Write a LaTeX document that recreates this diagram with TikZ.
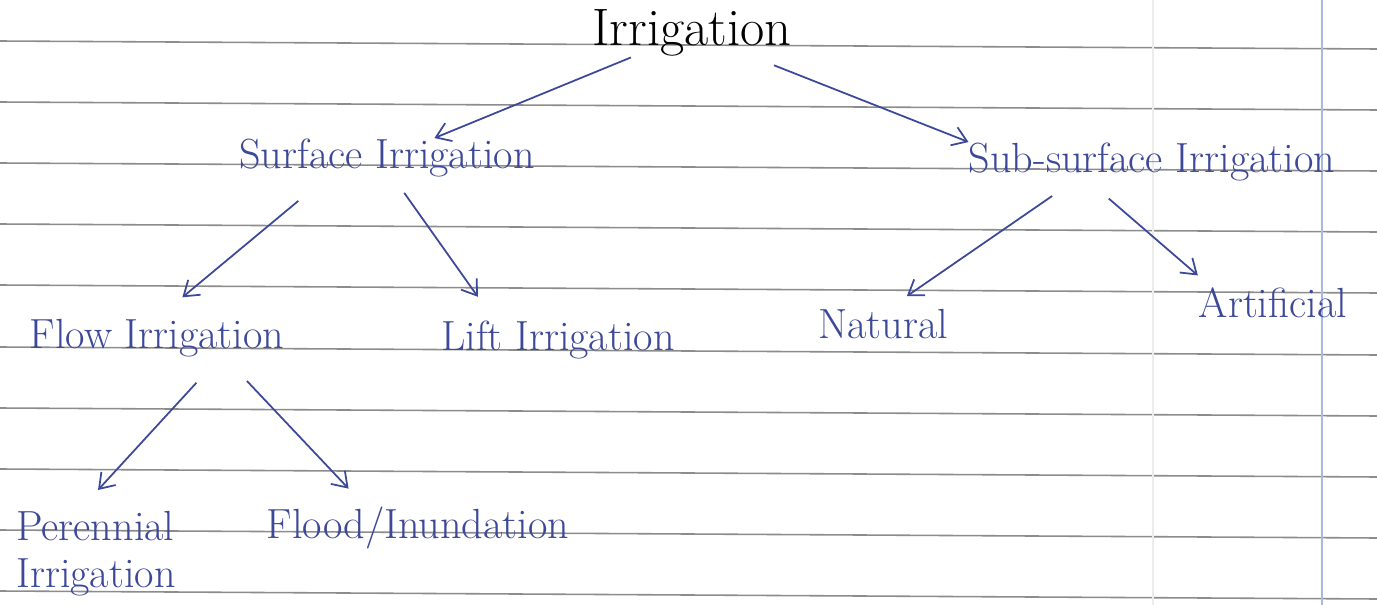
\documentclass[tikz,border=0pt]{standalone}
\usepackage{tikz}
\usepackage{xcolor}
\usetikzlibrary{arrows.meta}
\definecolor{ink}{RGB}{60,72,152}
\definecolor{ruling}{RGB}{140,140,140}
\definecolor{margin}{RGB}{170,185,225}

\begin{document}
\begin{tikzpicture}[x=0.02cm,y=-0.02cm,
    txt/.style={inner sep=0pt,anchor=base,text=ink,font=\fontsize{24}{26.75}\selectfont},
    arr/.style={draw=ink,line width=1pt,-{Straight Barb[length=8pt,width=11pt]}}]
    \useasboundingbox (0,0) rectangle (1377,605);
    \fill [white] (0,0) rectangle (1377,605);
    % ruled paper
    \foreach \y in {41,102,163,224,285,347,408,469,530,591}
        \draw [ruling,line width=0.9pt] (0,\y)--(1377,\y+8);
    \draw [gray!15,line width=1pt] (1153,0)--(1153,605);
    \draw [margin,line width=1.6pt] (1322,0)--(1322,605);

    \node[txt,text=black,font=\fontsize{30}{33}\selectfont] (irr) at (692,45) {Irrigation};
    \node[txt] (surf) at (387,168) {Surface Irrigation};
    \node[txt] (sub) at (1152,172) {Sub-surface Irrigation};
    \node[txt] (flow) at (157,348) {Flow Irrigation};
    \node[txt] (lift) at (558,350) {Lift Irrigation};
    \node[txt] (nat) at (883,338) {Natural};
    \node[txt] (art) at (1273,317) {Artificial};
    \node[txt,anchor=north west,align=left] (per) at (16,511) {Perennial\\Irrigation};
    \node[txt] (flood) at (418,538) {Flood/Inundation};

    \draw[arr,shorten <=2pt] (irr) -- (surf);
    \draw[arr,shorten <=0.5cm] (irr.-22) -- (sub.north west);
    \draw[arr,shorten <=0.75cm,shorten >=0.66cm] (surf.198) -- (flow.north);
    \draw[arr,shorten <=0.39cm,shorten >=0.57cm] (surf.-73) -- (lift.163);
    \draw[arr,shorten <=0.7cm,shorten >=0.57cm] (flow.-17) -- (per.112);
    \draw[arr,shorten <=0.66cm,shorten >=0.48cm] (flow.-16) -- (flood.158);
    \draw[arr,shorten <=0.53cm,shorten >=0.43cm] (sub.194) -- (nat.68);
    \draw[arr,shorten <=0.54cm,shorten >=0.35cm] (sub.197) -- (art.166);
\end{tikzpicture}
\end{document}
